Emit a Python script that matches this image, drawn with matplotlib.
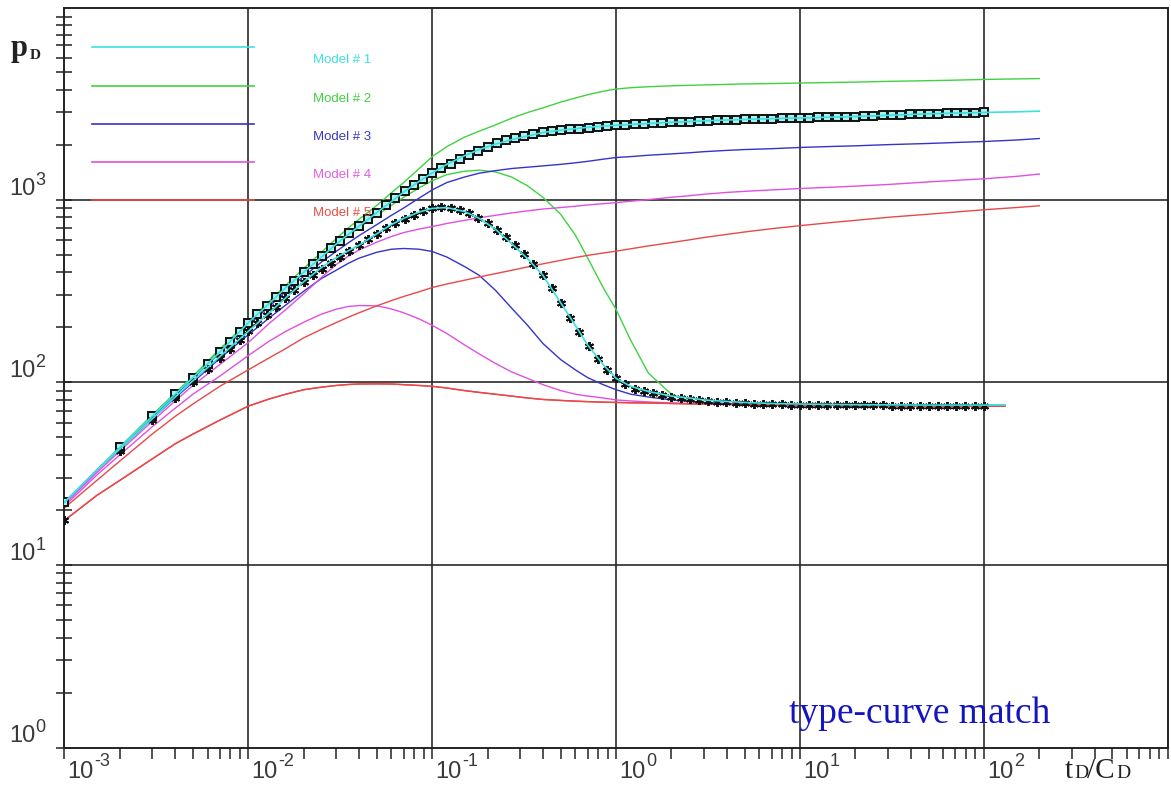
import numpy as np
import matplotlib
matplotlib.use("Agg")
import matplotlib.pyplot as plt
from matplotlib.ticker import LogLocator, NullFormatter
from matplotlib.transforms import offset_copy, blended_transform_factory

# ------------------------------------------------------------
# data
# ------------------------------------------------------------
# time grid for the model curves (tD/CD)
t_model = [0.001, 0.0015, 0.002, 0.003, 0.004, 0.005, 0.007, 0.01, 0.013, 0.016,
           0.02, 0.025, 0.03, 0.035, 0.04, 0.05, 0.06, 0.07, 0.085, 0.1,
           0.12, 0.15, 0.18, 0.22, 0.27, 0.33, 0.4, 0.5, 0.6, 0.7,
           0.85, 1, 1.2, 1.5, 2, 2.5, 3, 4, 5, 7,
           10, 15, 20, 30, 50, 70, 100, 150, 200]
t_deriv = [0.001, 0.0015, 0.002, 0.003, 0.004, 0.005, 0.007, 0.01, 0.013, 0.016,
           0.02, 0.025, 0.03, 0.035, 0.04, 0.05, 0.06, 0.07, 0.085, 0.1,
           0.12, 0.15, 0.18, 0.22, 0.27, 0.33, 0.4, 0.5, 0.6, 0.7,
           0.85, 1, 1.2, 1.5, 2, 2.5, 3, 4, 5, 7,
           10, 15, 20, 30, 50, 70, 100, 130]

# pressure curves pD
p_model1 = [22, 33, 44, 65, 86, 106, 146, 212, 270, 330,
            400, 485, 570, 645, 715, 850, 975, 1100, 1260, 1400,
            1560, 1740, 1880, 2010, 2130, 2230, 2330, 2400, 2445, 2490,
            2525, 2553, 2580, 2610, 2650, 2678, 2700, 2728, 2750, 2775,
            2800, 2830, 2850, 2895, 2950, 2975, 3000, 3025, 3050]
p_model2 = [22, 33, 44, 66, 87, 108, 152, 215, 278, 340,
            420, 515, 610, 700, 780, 930, 1090, 1240, 1480, 1720,
            1950, 2200, 2370, 2560, 2790, 3000, 3180, 3420, 3600, 3750,
            3920, 4030, 4100, 4150, 4200, 4225, 4245, 4275, 4300, 4320,
            4350, 4380, 4400, 4440, 4480, 4510, 4550, 4580, 4600]
p_model3 = [22, 33, 43, 64, 85, 105, 145, 205, 260, 315,
            380, 455, 520, 580, 635, 730, 820, 900, 1020, 1130,
            1240, 1330, 1395, 1440, 1480, 1505, 1530, 1560, 1590, 1620,
            1665, 1700, 1720, 1750, 1780, 1805, 1830, 1860, 1880, 1900,
            1930, 1955, 1970, 2000, 2030, 2055, 2080, 2120, 2160]
p_model4 = [21.5, 32, 42, 61, 79, 96, 125, 165, 210, 250,
            305, 375, 440, 490, 530, 585, 628, 660, 690, 712,
            740, 770, 795, 820, 845, 868, 888, 905, 920, 935,
            950, 963, 980, 1000, 1030, 1050, 1070, 1095, 1110, 1130,
            1150, 1170, 1185, 1210, 1250, 1275, 1300, 1340, 1380]
p_model5 = [20.5, 29, 37, 52, 65, 76, 95, 117, 136, 153,
            175, 195, 212, 227, 240, 262, 280, 295, 313, 330,
            345, 362, 377, 393, 410, 428, 445, 465, 482, 495,
            510, 522, 538, 558, 582, 602, 620, 645, 665, 693,
            720, 750, 770, 800, 832, 855, 880, 905, 925]

# derivative curves
d_model1 = [22, 33, 43, 63, 83, 102, 138, 190, 240, 290,
            355, 425, 480, 525, 562, 650, 730, 790, 855, 895,
            905, 860, 790, 690, 575, 475, 385, 272, 205, 160,
            125, 105, 95, 89, 84, 82, 80, 78.5, 77.5, 76.5,
            76, 75.6, 75.4, 75.2, 75, 75, 75, 75]
d_model2 = [22, 33, 44, 66, 87, 107, 150, 208, 265, 322,
            395, 480, 560, 635, 700, 820, 930, 1030, 1160, 1270,
            1370, 1430, 1450, 1420, 1330, 1190, 1030, 830, 640, 480,
            330, 250, 170, 112, 86, 79, 77, 76, 75.8, 75.6,
            75.5, 75.3, 75.2, 75, 75, 75, 75, 75]
d_model3 = [22, 33, 43, 63, 82, 100, 135, 182, 225, 265,
            315, 370, 410, 448, 478, 515, 535, 540, 535, 520,
            485, 430, 385, 320, 255, 205, 163, 133, 117, 106,
            97, 91, 86, 83, 80, 78.5, 77.5, 76.5, 76, 75.5,
            75.2, 75, 75, 74.8, 74.6, 74.5, 74.5, 74.5]
d_model4 = [21, 31, 40, 57, 72, 86, 108, 140, 168, 190,
            213, 236, 251, 260, 263, 262, 252, 240, 222, 205,
            185, 160, 143, 127, 114, 105, 97, 90, 86, 84,
            82, 80, 79, 78, 77, 76.5, 76, 75.5, 75.2, 75,
            74.8, 74.6, 74.5, 74.3, 74.2, 74.1, 74, 74]
d_model5 = [17.5, 24, 29, 38, 46, 52, 62, 74, 81, 86,
            91, 94, 96, 97.2, 97.8, 98, 97.8, 97, 96, 95,
            93, 90, 88, 86, 84, 82, 80.5, 79.5, 78.8, 78.3,
            77.8, 77.5, 77.2, 77, 76.5, 76.2, 76, 75.7, 75.5, 75.2,
            75, 74.8, 74.5, 74.3, 74, 74, 74, 74]

# measured data (squares = pressure, stars = derivative)
t_data = [0.001, 0.002, 0.003, 0.004, 0.005, 0.006, 0.007, 0.008, 0.009,
          0.01, 0.0112, 0.0126, 0.0141, 0.0158, 0.0178, 0.02, 0.0224, 0.0251, 0.0282,
          0.0316, 0.0355, 0.0398, 0.0447, 0.0501, 0.0562, 0.0631, 0.0708, 0.0794, 0.0891,
          0.1, 0.112, 0.126, 0.141, 0.158, 0.178, 0.2, 0.224, 0.251, 0.282,
          0.316, 0.355, 0.398, 0.447, 0.501, 0.562, 0.631, 0.708, 0.794, 0.891,
          1.0, 1.12, 1.26, 1.41, 1.58, 1.78, 2.0, 2.24, 2.51, 2.82,
          3.16, 3.55, 3.98, 4.47, 5.01, 5.62, 6.31, 7.08, 7.94, 8.91,
          10.0, 11.2, 12.6, 14.1, 15.8, 17.8, 20.0, 22.4, 25.1, 28.2,
          31.6, 35.5, 39.8, 44.7, 50.1, 56.2, 63.1, 70.8, 79.4, 89.1,
          100.0]
p_data = [22, 44, 65, 86, 106, 126, 146, 166, 188,
          212, 236, 262, 292, 322, 360, 400, 442, 490, 540,
          595, 655, 715, 780, 850, 931, 1019, 1112, 1208, 1303,
          1400, 1486, 1574, 1667, 1758, 1854, 1950, 2032, 2109, 2178,
          2239, 2291, 2333, 2366, 2399, 2427, 2449, 2472, 2495, 2523,
          2553, 2570, 2585, 2600, 2615, 2632, 2650, 2662, 2675, 2688,
          2700, 2712, 2725, 2738, 2750, 2758, 2767, 2775, 2783, 2792,
          2800, 2808, 2817, 2825, 2833, 2842, 2850, 2862, 2875, 2888,
          2900, 2912, 2925, 2938, 2950, 2958, 2967, 2975, 2983, 2992,
          3000]
dp_data = [17.5, 42, 62, 82, 100, 118, 136, 153, 170,
           190, 211, 234, 259, 288, 320, 355, 386, 419, 452,
           485, 522, 562, 605, 650, 697, 741, 785, 828, 865,
           895, 908, 904, 881, 841, 794, 741, 684, 624, 562,
           501, 442, 385, 327, 272, 225, 188, 158, 134, 117,
           105, 98, 92, 89, 87, 85, 83, 81.5, 80.5, 79.5,
           78.5, 78, 77.5, 77, 76.5, 76.3, 76.1, 75.9, 75.7, 75.5,
           75.4, 75.3, 75.2, 75.1, 75, 75, 74.9, 74.8, 74.7, 74.6,
           74.5, 74.5, 74.4, 74.4, 74.3, 74.3, 74.2, 74.2, 74.1, 74.1,
           74]

model_names = ["Model # 1", "Model # 2", "Model # 3", "Model # 4", "Model # 5"]
model_colors = ["#3ee0e0", "#3fd23f", "#3434c8", "#e050e0", "#e84848"]
label_colors = ["#3ee0e0", "#3fd23f", "#3a3ab8", "#e060e0", "#e85040"]

grid_x = [1e-2, 1e-1, 1, 10, 100]
grid_y = [10, 100, 1000]
xlabel_exps = [-3, -2, -1, 0, 1, 2]
ylabel_exps = [0, 1, 2, 3]

# ------------------------------------------------------------
# figure
# ------------------------------------------------------------
W, H = 1171, 787
fig = plt.figure(figsize=(W / 100, H / 100), dpi=100)
ax = fig.add_axes([64.4 / W, (H - 747.5) / H, (1167.8 - 64.4) / W, (747.5 - 8) / H])
ax.set_xscale("log")
ax.set_yscale("log")
ax.set_xlim(1e-3, 1e3)
ax.set_ylim(1, 1.12e4)

for s in ax.spines.values():
    s.set_linewidth(1.4)
    s.set_color("#222222")

ax.xaxis.set_major_locator(LogLocator(base=10, numticks=20))
ax.xaxis.set_minor_locator(LogLocator(base=10, subs=np.arange(2, 10), numticks=20))
ax.yaxis.set_major_locator(LogLocator(base=10, numticks=20))
ax.yaxis.set_minor_locator(LogLocator(base=10, subs=np.arange(2, 10), numticks=20))
ax.xaxis.set_minor_formatter(NullFormatter())
ax.yaxis.set_minor_formatter(NullFormatter())
ax.tick_params(axis="x", which="both", direction="out", length=8, width=1.1,
               color="#222222", labelbottom=False)
ax.tick_params(axis="y", which="both", direction="inout", length=12, width=1.1,
               color="#222222", labelleft=False)

for gx in grid_x:
    ax.axvline(gx, color="#2a2a2a", lw=1.2, zorder=1)
for gy in grid_y:
    ax.axhline(gy, color="#2a2a2a", lw=1.2, zorder=1)

# model curves
pressures = [p_model1, p_model2, p_model3, p_model4, p_model5]
derivs = [d_model1, d_model2, d_model3, d_model4, d_model5]
for i in [1, 2, 3, 4]:
    ax.plot(t_model, pressures[i], color=model_colors[i], lw=1.0, zorder=2)
    ax.plot(t_deriv, derivs[i], color=model_colors[i], lw=1.0, zorder=2)

# data markers
ax.plot(t_data, p_data, ls="none", marker="s", ms=5.5, mfc="#a8f0f0",
        mec="#111111", mew=1.4, zorder=3)
ax.plot(t_data, dp_data, ls="none", marker=(6, 2, 0), ms=6.5,
        mec="#111111", mew=1.4, zorder=3)
# model 1 drawn over the data
ax.plot(t_model, p_model1, color=model_colors[0], lw=1.2, zorder=4)
ax.plot(t_deriv, d_model1, color=model_colors[0], lw=1.2, zorder=4)
ax.plot(t_deriv, d_model5, color=model_colors[4], lw=1.0, zorder=2.5)

# legend lines and labels
leg_y = [0.9472, 0.8945, 0.8430, 0.7916, 0.7400]
lab_y = [0.9296, 0.8769, 0.8254, 0.7740, 0.7226]
for i in range(5):
    ax.plot([0.0247, 0.1717], [leg_y[i], leg_y[i]], transform=ax.transAxes,
            color=model_colors[i], lw=1.2, zorder=2)
    ax.text(0.2256, lab_y[i], model_names[i], transform=ax.transAxes,
            color=label_colors[i], fontsize=9.5, family="Liberation Sans",
            va="center", ha="left", zorder=5)

# tick labels: "10" plus raised exponent
bx = blended_transform_factory(ax.transData, ax.transAxes)
by = blended_transform_factory(ax.transAxes, ax.transData)
tick_col = "#3a3a3a"
for e in xlabel_exps:
    ax.text(10.0 ** e, 0, "10", transform=offset_copy(bx, fig, x=3, y=-31, units="dots"),
            ha="left", va="baseline", fontsize=17, family="Liberation Sans", color=tick_col)
    ax.text(10.0 ** e, 0, str(e), transform=offset_copy(bx, fig, x=30, y=-19, units="dots"),
            ha="left", va="baseline", fontsize=13, family="Liberation Sans", color=tick_col)
for e in ylabel_exps:
    ax.text(0, 10.0 ** e, "10", transform=offset_copy(by, fig, x=-55, y=5, units="dots"),
            ha="left", va="baseline", fontsize=17, family="Liberation Sans", color=tick_col)
    ax.text(0, 10.0 ** e, str(e), transform=offset_copy(by, fig, x=-29, y=15, units="dots"),
            ha="left", va="baseline", fontsize=13, family="Liberation Sans", color=tick_col)


def px_text(x, y, s, **kw):
    fig.text(x / W, 1 - y / H, s, **kw)


# axis titles
px_text(11, 56, "p", fontsize=22, family="Liberation Serif", weight="bold",
        color="#222222", va="baseline")
px_text(30, 59, "D", fontsize=11, family="Liberation Serif", weight="bold",
        color="#222222", va="baseline")
px_text(1065, 778, "t", fontsize=21, family="Liberation Serif", color="#222222", va="baseline")
px_text(1074, 778, "D", fontsize=14, family="Liberation Serif", color="#222222", va="baseline")
px_text(1087, 778, "/C", fontsize=21, family="Liberation Serif", color="#222222", va="baseline")
px_text(1116, 778, "D", fontsize=14, family="Liberation Serif", color="#222222", va="baseline")

ax.text(0.6566, 0.0338, "type-curve match", transform=ax.transAxes,
        fontsize=27, family="Liberation Serif", color="#1515c0",
        ha="left", va="baseline", zorder=5)

fig.savefig("out.png", dpi=100)
